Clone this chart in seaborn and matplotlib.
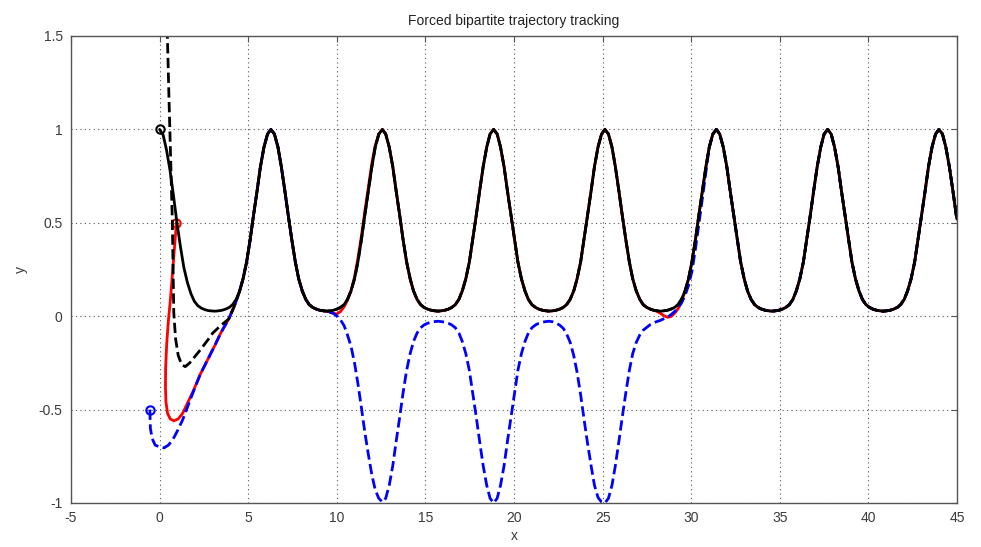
import numpy as np
import pandas as pd
import matplotlib
matplotlib.use("Agg")
import matplotlib.pyplot as plt
import seaborn as sns

# ---------------- data ----------------
leader_x = [0.00, 0.20, 0.39, 0.59, 0.79, 0.98, 1.18, 1.37, 1.57, 1.77, 1.96, 2.16, 2.36, 2.55, 2.75, 2.95, 3.14,
            3.34, 3.53, 3.73, 3.93, 4.12, 4.32, 4.52, 4.71, 4.91, 5.11, 5.30, 5.50, 5.69, 5.89, 6.09, 6.28,
            6.48, 6.68, 6.87, 7.07, 7.26, 7.46, 7.66, 7.85, 8.05, 8.25, 8.44, 8.64, 8.84, 9.03, 9.23, 9.42,
            9.62, 9.82, 10.01, 10.21, 10.41, 10.60, 10.80, 11.00, 11.19, 11.39, 11.58, 11.78, 11.98, 12.17, 12.37, 12.57,
            12.76, 12.96, 13.16, 13.35, 13.55, 13.74, 13.94, 14.14, 14.33, 14.53, 14.73, 14.92, 15.12, 15.32, 15.51, 15.71,
            15.90, 16.10, 16.30, 16.49, 16.69, 16.89, 17.08, 17.28, 17.48, 17.67, 17.87, 18.06, 18.26, 18.46, 18.65, 18.85,
            19.05, 19.24, 19.44, 19.63, 19.83, 20.03, 20.22, 20.42, 20.62, 20.81, 21.01, 21.21, 21.40, 21.60, 21.79, 21.99,
            22.19, 22.38, 22.58, 22.78, 22.97, 23.17, 23.37, 23.56, 23.76, 23.95, 24.15, 24.35, 24.54, 24.74, 24.94, 25.13,
            25.33, 25.53, 25.72, 25.92, 26.11, 26.31, 26.51, 26.70, 26.90, 27.10, 27.29, 27.49, 27.69, 27.88, 28.08, 28.27,
            28.47, 28.67, 28.86, 29.06, 29.26, 29.45, 29.65, 29.85, 30.04, 30.24, 30.43, 30.63, 30.83, 31.02, 31.22, 31.42,
            31.61, 31.81, 32.01, 32.20, 32.40, 32.60, 32.79, 32.99, 33.18, 33.38, 33.58, 33.77, 33.97, 34.17, 34.36, 34.56,
            34.76, 34.95, 35.15, 35.34, 35.54, 35.74, 35.93, 36.13, 36.33, 36.52, 36.72, 36.91, 37.11, 37.31, 37.50, 37.70,
            37.90, 38.09, 38.29, 38.48, 38.68, 38.88, 39.07, 39.27, 39.47, 39.66, 39.86, 40.06, 40.25, 40.45, 40.64, 40.84,
            41.04, 41.23, 41.43, 41.63, 41.82, 42.02, 42.21, 42.41, 42.61, 42.80, 43.00, 43.20, 43.39, 43.59, 43.79, 43.98,
            44.18, 44.37, 44.57, 44.77, 44.96, 45.00]
leader_y = [1.00, 0.97, 0.89, 0.78, 0.64, 0.50, 0.37, 0.26, 0.18, 0.12, 0.08, 0.056, 0.043, 0.035, 0.030, 0.028, 0.027,
            0.029, 0.032, 0.038, 0.047, 0.062, 0.09, 0.135, 0.20, 0.29, 0.41, 0.54, 0.67, 0.80, 0.905, 0.975, 1.00,
            0.975, 0.905, 0.80, 0.67, 0.54, 0.41, 0.29, 0.20, 0.135, 0.09, 0.062, 0.047, 0.038, 0.032, 0.029, 0.027,
            0.029, 0.032, 0.038, 0.047, 0.062, 0.09, 0.135, 0.20, 0.29, 0.41, 0.54, 0.67, 0.80, 0.905, 0.975, 1.00,
            0.975, 0.905, 0.80, 0.67, 0.54, 0.41, 0.29, 0.20, 0.135, 0.09, 0.062, 0.047, 0.038, 0.032, 0.029, 0.027,
            0.029, 0.032, 0.038, 0.047, 0.062, 0.09, 0.135, 0.20, 0.29, 0.41, 0.54, 0.67, 0.80, 0.905, 0.975, 1.00,
            0.975, 0.905, 0.80, 0.67, 0.54, 0.41, 0.29, 0.20, 0.135, 0.09, 0.062, 0.047, 0.038, 0.032, 0.029, 0.027,
            0.029, 0.032, 0.038, 0.047, 0.062, 0.09, 0.135, 0.20, 0.29, 0.41, 0.54, 0.67, 0.80, 0.905, 0.975, 1.00,
            0.975, 0.905, 0.80, 0.67, 0.54, 0.41, 0.29, 0.20, 0.135, 0.09, 0.062, 0.047, 0.038, 0.032, 0.029, 0.027,
            0.029, 0.032, 0.038, 0.047, 0.062, 0.09, 0.135, 0.20, 0.29, 0.41, 0.54, 0.67, 0.80, 0.905, 0.975, 1.00,
            0.975, 0.905, 0.80, 0.67, 0.54, 0.41, 0.29, 0.20, 0.135, 0.09, 0.062, 0.047, 0.038, 0.032, 0.029, 0.027,
            0.029, 0.032, 0.038, 0.047, 0.062, 0.09, 0.135, 0.20, 0.29, 0.41, 0.54, 0.67, 0.80, 0.905, 0.975, 1.00,
            0.975, 0.905, 0.80, 0.67, 0.54, 0.41, 0.29, 0.20, 0.135, 0.09, 0.062, 0.047, 0.038, 0.032, 0.029, 0.027,
            0.029, 0.032, 0.038, 0.047, 0.062, 0.09, 0.135, 0.20, 0.29, 0.41, 0.54, 0.67, 0.80, 0.905, 0.975, 1.00,
            0.975, 0.905, 0.80, 0.67, 0.54, 0.52]

# black dashed follower: transient before it joins the leader
kdash_head_x = [0.36, 0.44, 0.52, 0.58, 0.65, 0.72, 0.76, 0.80, 0.90, 1.05, 1.25, 1.45, 1.70, 2.00, 2.30, 2.70, 3.00, 3.45, 3.90, 4.20, 4.50]
kdash_head_y = [1.80, 1.50, 1.20, 1.00, 0.75, 0.50, 0.25, 0.02, -0.12, -0.21, -0.26, -0.27, -0.25, -0.215, -0.18, -0.13, -0.09, -0.05, -0.015, 0.05, 0.13]

# red follower
red_head_x = [0.95, 0.85, 0.72, 0.62, 0.50, 0.40, 0.34, 0.33, 0.36, 0.45, 0.60, 0.80, 1.05, 1.30, 1.60, 1.90, 2.30, 2.70, 3.10, 3.45, 3.90, 4.20, 4.50]
red_head_y = [0.50, 0.38, 0.22, 0.10, -0.02, -0.15, -0.28, -0.38, -0.46, -0.52, -0.55, -0.56, -0.55, -0.52, -0.46, -0.40, -0.31, -0.235, -0.16, -0.09, -0.015, 0.05, 0.13]
red_mid1_x = [9.62, 9.82, 10.01, 10.21, 10.41, 10.60, 10.80, 11.00, 11.19, 11.39, 11.58, 11.78, 11.98, 12.17]
red_mid1_y = [0.022, 0.015, 0.012, 0.025, 0.05, 0.085, 0.135, 0.21, 0.31, 0.43, 0.56, 0.69, 0.82, 0.915]
red_mid2_x = [28.08, 28.27, 28.47, 28.67, 28.86, 29.06, 29.26, 29.45, 29.65, 29.85]
red_mid2_y = [0.025, 0.015, 0.002, -0.006, -0.002, 0.015, 0.04, 0.08, 0.13, 0.20]

# blue (antagonistic) follower
blue_head_x = [-0.55, -0.52, -0.42, -0.25, 0.00, 0.25, 0.50, 0.75, 1.00, 1.30, 1.60, 1.90, 2.30, 2.70, 3.10, 3.45, 3.90, 4.20, 4.50]
blue_head_y = [-0.50, -0.60, -0.655, -0.69, -0.70, -0.705, -0.69, -0.66, -0.615, -0.555, -0.48, -0.405, -0.31, -0.235, -0.16, -0.09, -0.015, 0.05, 0.13]
# values on the leader's x samples from 9.82 to 30.83
blue_mid_y = [0.015, 0.0, -0.02, -0.05, -0.10, -0.16, -0.25, -0.36, -0.49, -0.62, -0.74, -0.85, -0.93, -0.975, -0.995,
              -0.975, -0.905, -0.80, -0.67, -0.54, -0.41, -0.29, -0.20, -0.135, -0.09, -0.062, -0.047, -0.038, -0.032, -0.029, -0.027,
              -0.029, -0.032, -0.038, -0.047, -0.062, -0.09, -0.135, -0.20, -0.29, -0.41, -0.54, -0.67, -0.80, -0.905, -0.975, -1.00,
              -0.975, -0.905, -0.80, -0.67, -0.54, -0.41, -0.29, -0.20, -0.135, -0.09, -0.062, -0.047, -0.038, -0.032, -0.029, -0.027,
              -0.03, -0.037, -0.048, -0.065, -0.095, -0.14, -0.21, -0.30, -0.42, -0.55, -0.68, -0.80, -0.905, -0.97, -0.995, -1.00,
              -0.975, -0.905, -0.80, -0.67, -0.54, -0.41, -0.29, -0.20, -0.14, -0.10, -0.075, -0.06, -0.045, -0.035, -0.028, -0.022,
              -0.013, -0.005, 0.008, 0.025, 0.045, 0.07, 0.11, 0.165, 0.24, 0.36, 0.49, 0.63, 0.77]

x_ticks = [-5, 0, 5, 10, 15, 20, 25, 30, 35, 40, 45]
y_ticks = [-1, -0.5, 0, 0.5, 1, 1.5]
y_tick_labels = ["-1", "-0.5", "0", "0.5", "1", "1.5"]
title = "Forced bipartite trajectory tracking"

# ---------------- assemble series ----------------
lx = np.array(leader_x)
ly = np.array(leader_y)
assert len(lx) == len(ly)

def seg(lo, hi):
    m = (lx >= lo) & (lx < hi)
    return list(lx[m]), list(ly[m])

def cat(*parts):
    xs, ys = [], []
    for px, py in parts:
        xs += list(px)
        ys += list(py)
    return pd.DataFrame({"x": xs, "y": ys})

blue_mid_x = list(lx[(lx > 9.7) & (lx < 30.9)])
assert len(blue_mid_x) == len(blue_mid_y)

df_leader = pd.DataFrame({"x": leader_x, "y": leader_y})
df_kdash = cat((kdash_head_x, kdash_head_y), seg(4.6, 46))
df_red = cat((red_head_x, red_head_y), seg(4.6, 9.5), (red_mid1_x, red_mid1_y),
             seg(12.3, 28.0), (red_mid2_x, red_mid2_y), seg(30.0, 46))
df_blue = cat((blue_head_x, blue_head_y), seg(4.6, 9.5), (blue_mid_x, blue_mid_y), seg(30.9, 46))

# ---------------- plotting ----------------
sns.set_theme(style="white")
plt.rcParams["font.family"] = ["Liberation Sans", "DejaVu Sans"]

fig = plt.figure(figsize=(9.81, 5.47), dpi=100)
ax = fig.add_axes([71 / 981, 1 - 503 / 547, (957 - 71) / 981, (503 - 36) / 547])

lw = 2.0
sns.lineplot(data=df_red, x="x", y="y", sort=False, estimator=None, ax=ax,
             color="#ff0000", linewidth=lw, marker="o", markevery=[0],
             markersize=6, markerfacecolor="none", markeredgecolor="#ff0000", markeredgewidth=1.5)
sns.lineplot(data=df_blue, x="x", y="y", sort=False, estimator=None, ax=ax,
             color="#0000ff", linewidth=lw, linestyle="--", marker="o", markevery=[0],
             markersize=6, markerfacecolor="none", markeredgecolor="#0000ff", markeredgewidth=1.5)
sns.lineplot(data=df_kdash, x="x", y="y", sort=False, estimator=None, ax=ax,
             color="black", linewidth=lw, linestyle="--")
sns.lineplot(data=df_leader, x="x", y="y", sort=False, estimator=None, ax=ax,
             color="black", linewidth=lw, marker="o", markevery=[0],
             markersize=6, markerfacecolor="none", markeredgecolor="black", markeredgewidth=1.5)

ax.set_xlim(-5, 45)
ax.set_ylim(-1, 1.5)
ax.set_xticks(x_ticks)
ax.set_xticklabels([str(t) for t in x_ticks])
ax.set_yticks(y_ticks)
ax.set_yticklabels(y_tick_labels)

ax.grid(True, linestyle=(0, (1, 3)), color="#555555", linewidth=0.8)
ax.set_axisbelow(True)
for s in ax.spines.values():
    s.set_color("#555555")
    s.set_linewidth(1.0)
    s.set_visible(True)
ax.tick_params(direction="in", top=True, right=True, length=4, width=0.8,
               colors="#555555", labelcolor="#3a3a3a", labelsize=10, pad=6)

ax.set_xlabel("x", fontsize=10, color="#3a3a3a", labelpad=3)
ax.set_ylabel("y", fontsize=10, color="#3a3a3a", labelpad=8)
ax.set_title(title, fontsize=10, color="#222222", pad=8)

fig.savefig("out.png", dpi=100)
